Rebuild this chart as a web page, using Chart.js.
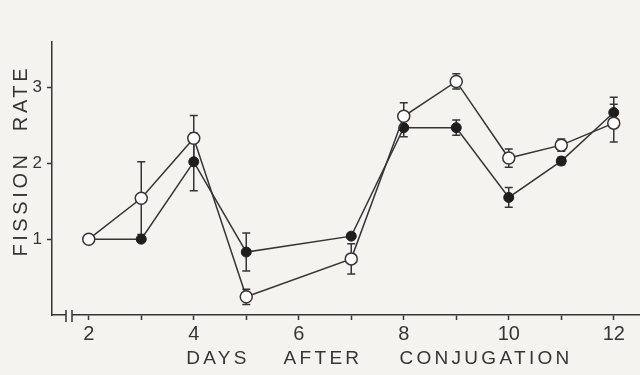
<!DOCTYPE html>
<html>
<head>
<meta charset="utf-8">
<script src="https://cdn.jsdelivr.net/npm/chart.js@4.4.1/dist/chart.umd.min.js"></script>
<style>
  html, body { margin: 0; padding: 0; background: #f4f3ef; }
  canvas { display: block; }
</style>
</head>
<body>
<canvas id="fission" width="640" height="375"></canvas>
<script>
// days after conjugation
const days = [2, 3, 4, 5, 7, 8, 9, 10, 11, 12];
// filled circles
const filledRate = [1.0, 1.0, 2.02, 0.83, 1.04, 2.47, 2.47, 1.55, 2.03, 2.67];
const filledErr  = [0, 0, 0.38, 0.25, 0, 0.12, 0.1, 0.13, 0.05, 0.2];
// open circles
const openRate = [1.0, 1.54, 2.33, 0.24, 0.74, 2.62, 3.08, 2.07, 2.24, 2.53];
const openErr  = [0, 0.48, 0.3, 0.1, 0.2, 0.18, 0.1, 0.12, 0.08, 0.25];

const xTicks = [2, 3, 4, 5, 6, 7, 8, 9, 10, 11, 12];
const xLabels = [2, 4, 6, 8, 10, 12];
const yTicks = [1, 2, 3];

const INK = '#353535';
const PAPER = '#f4f3ef';
const FONT = "'Liberation Sans', Arial, sans-serif";

const errorBars = {
  id: 'errorBars',
  beforeDatasetsDraw(chart) {
    const { ctx, scales: { x, y } } = chart;
    ctx.save();
    ctx.strokeStyle = INK;
    ctx.lineWidth = 1.5;
    chart.data.datasets.forEach(ds => {
      ds.data.forEach((p, i) => {
        const e = ds.errors[i];
        if (!e) return;
        const px = x.getPixelForValue(p.x);
        const top = y.getPixelForValue(p.y + e);
        const bot = y.getPixelForValue(p.y - e);
        ctx.beginPath();
        ctx.moveTo(px, top); ctx.lineTo(px, bot);
        ctx.moveTo(px - 4, top); ctx.lineTo(px + 4, top);
        ctx.moveTo(px - 4, bot); ctx.lineTo(px + 4, bot);
        ctx.stroke();
      });
    });
    ctx.restore();
  }
};

const axisDecor = {
  id: 'axisDecor',
  afterDraw(chart) {
    const { ctx, chartArea: a } = chart;
    ctx.save();
    // break in the x axis
    ctx.fillStyle = PAPER;
    ctx.fillRect(a.left + 14, a.bottom - 2, 6, 4);
    ctx.strokeStyle = INK;
    ctx.lineWidth = 1.5;
    ctx.beginPath();
    ctx.moveTo(a.left + 14, a.bottom - 5); ctx.lineTo(a.left + 14, a.bottom + 7);
    ctx.moveTo(a.left + 20, a.bottom - 5); ctx.lineTo(a.left + 20, a.bottom + 7);
    ctx.stroke();

    // axis titles
    ctx.fillStyle = INK;
    ctx.font = '19px ' + FONT;
    ctx.letterSpacing = '3.3px';
    ctx.textAlign = 'center';
    ctx.textBaseline = 'middle';
    [['DAYS', 218], ['AFTER', 323], ['CONJUGATION', 486]].forEach(([w, cx]) => {
      ctx.fillText(w, cx, 359);
    });
    ctx.font = '20px ' + FONT;
    ctx.letterSpacing = '3.6px';
    ctx.translate(21, 0);
    ctx.rotate(-Math.PI / 2);
    [['FISSION', 204], ['RATE', 98]].forEach(([w, cy]) => {
      ctx.fillText(w, -cy, 0);
    });
    ctx.restore();
  }
};

new Chart(document.getElementById('fission'), {
  type: 'line',
  data: {
    datasets: [
      {
        label: 'open',
        data: days.map((d, i) => ({ x: d, y: openRate[i] })),
        errors: openErr,
        borderColor: INK,
        borderWidth: 1.5,
        pointStyle: 'circle',
        pointRadius: 6,
        pointBackgroundColor: '#ffffff',
        pointBorderColor: INK,
        pointBorderWidth: 1.5,
        tension: 0
      },
      {
        label: 'filled',
        data: days.map((d, i) => ({ x: d, y: filledRate[i] })),
        errors: filledErr,
        borderColor: INK,
        borderWidth: 1.5,
        pointStyle: 'circle',
        pointRadius: 5,
        pointBackgroundColor: '#1e1e1e',
        pointBorderColor: '#1e1e1e',
        pointBorderWidth: 1,
        tension: 0
      }
    ]
  },
  options: {
    responsive: false,
    devicePixelRatio: 1,
    animation: false,
    layout: { autoPadding: false, padding: { top: 42, right: 0, left: 0, bottom: 0 } },
    plugins: {
      legend: { display: false },
      tooltip: { enabled: false }
    },
    scales: {
      x: {
        type: 'linear',
        min: 1.3,
        max: 12.5,
        afterBuildTicks: s => { s.ticks = xTicks.map(v => ({ value: v })); },
        afterFit: s => { s.height = 60; },
        border: { display: true, color: INK, width: 1.5 },
        grid: { drawOnChartArea: false, color: INK, tickLength: 5, tickWidth: 1.5 },
        ticks: {
          color: INK,
          padding: 2,
          maxRotation: 0,
          autoSkip: false,
          font: { family: FONT, size: 20 },
          callback: v => (xLabels.includes(v) ? String(v) : '')
        }
      },
      y: {
        min: 0,
        max: 3.6,
        afterBuildTicks: s => { s.ticks = yTicks.map(v => ({ value: v })); },
        afterFit: s => { s.width = 52; },
        border: { display: true, color: INK, width: 1.5 },
        grid: { drawOnChartArea: false, color: INK, tickLength: 5, tickWidth: 1.5 },
        ticks: {
          color: INK,
          padding: 5,
          font: { family: FONT, size: 17 },
          callback: v => String(v)
        }
      }
    }
  },
  plugins: [errorBars, axisDecor]
});
</script>
</body>
</html>
